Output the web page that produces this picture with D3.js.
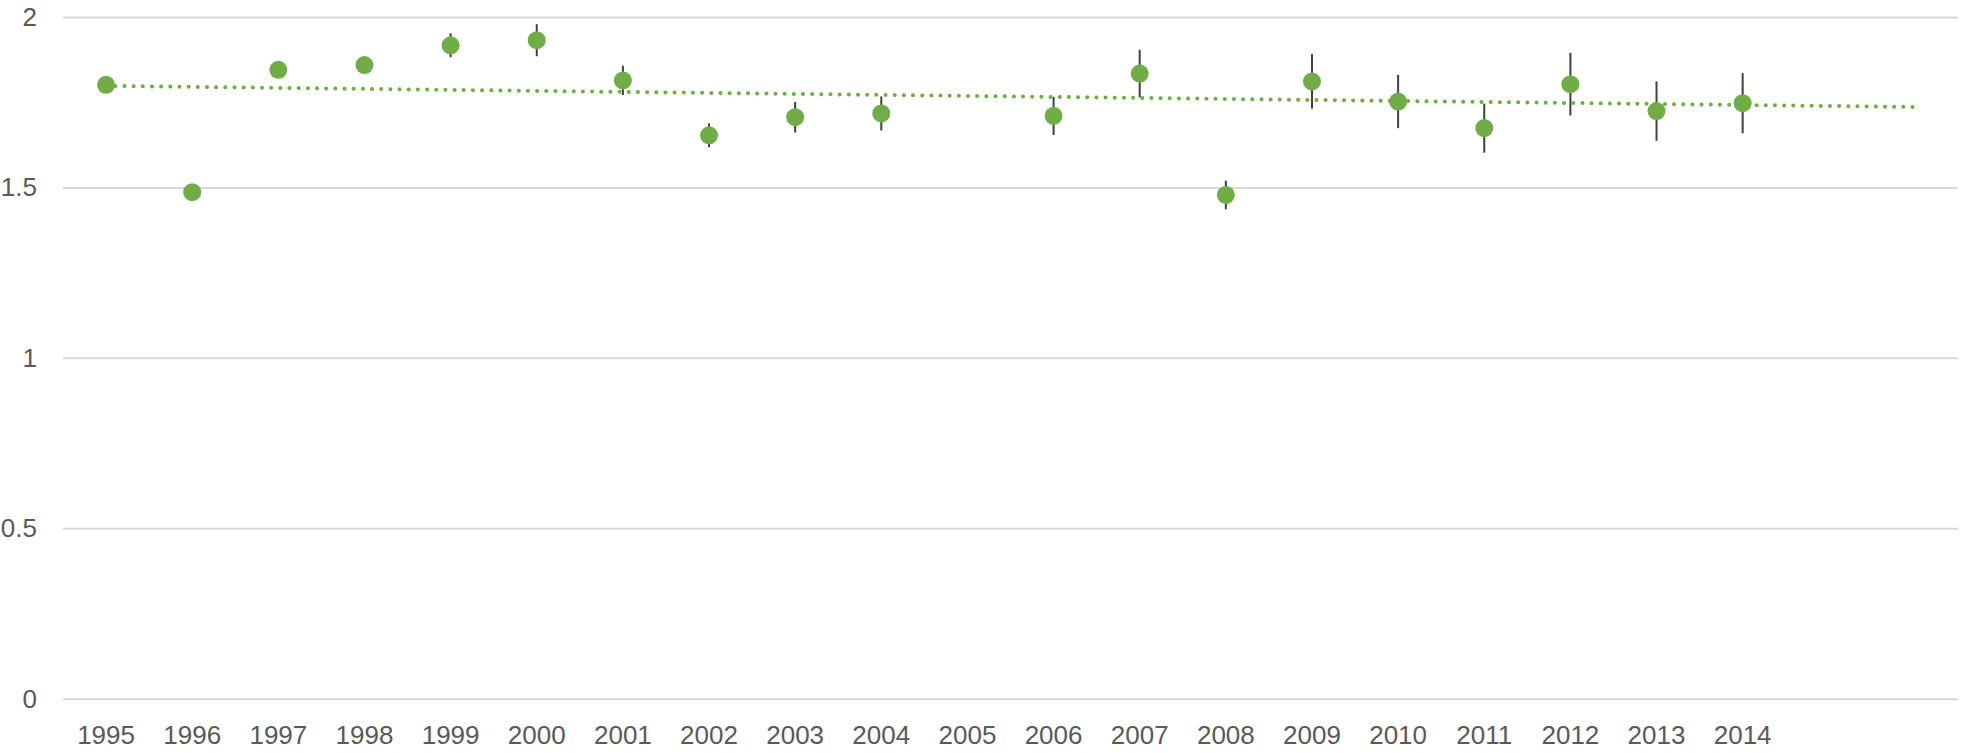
<!DOCTYPE html>
<html>
<head>
<meta charset="utf-8">
<script src="https://cdn.jsdelivr.net/npm/d3@7"></script>
<style>
    html, body { margin: 0; padding: 0; background: #fff; }
    svg text { font-family: "Liberation Sans", Arial, sans-serif; }
</style>
</head>
<body>
<div id="chart"></div>
<script>
// category slots (the axis keeps two empty slots for the trend forecast)
const slots = ["1995", "1996", "1997", "1998", "1999", "2000", "2001", "2002", "2003", "2004",
    "2005", "2006", "2007", "2008", "2009", "2010", "2011", "2012", "2013", "2014", "2015", "2016"];
const tickLabels = slots.slice(0, 20);

const years = ["1995", "1996", "1997", "1998", "1999", "2000", "2001", "2002", "2003", "2004",
    "2006", "2007", "2008", "2009", "2010", "2011", "2012", "2013", "2014"];
const values = [1.801, 1.486, 1.845, 1.859, 1.917, 1.932, 1.814, 1.653, 1.706, 1.717,
    1.710, 1.834, 1.478, 1.811, 1.752, 1.674, 1.803, 1.724, 1.747];
const errors = [0.015, 0.015, 0.015, 0.015, 0.035, 0.047, 0.043, 0.035, 0.045, 0.050,
    0.056, 0.070, 0.042, 0.080, 0.078, 0.072, 0.092, 0.087, 0.088];

// linear trendline as drawn (start and forecast end)
const trendYears = ["1995", "2016"];
const trendValues = [1.798, 1.736];

const yTicks = [0, 0.5, 1, 1.5, 2];

const width = 1961;
const height = 753;
const plotLeft = 63;
const plotRight = 1958;
const plotTop = 17;
const plotBottom = 698.7;

const green = "#70AD47";
const grid = "#D9D9D9";
const textCol = "#595959";
const fontSize = "26px";

const svg = d3.select("#chart")
    .append("svg")
    .attr("width", width)
    .attr("height", height);

const x = d3.scaleBand()
    .domain(slots)
    .range([plotLeft, plotRight])
    .padding(0);
const cx = d => x(d) + x.bandwidth() / 2;

const y = d3.scaleLinear()
    .domain([0, 2])
    .range([plotBottom, plotTop]);

// Gridlines + y labels
const yAxis = svg.append("g")
    .attr("transform", "translate(" + plotLeft + ",0)")
    .call(d3.axisLeft(y)
        .tickValues(yTicks)
        .tickFormat(d3.format("~g"))
        .tickSize(-(plotRight - plotLeft))
        .tickPadding(26));
yAxis.select(".domain").remove();
yAxis.selectAll(".tick line")
    .attr("stroke", grid)
    .attr("stroke-width", 2);
yAxis.selectAll(".tick text")
    .attr("fill", textCol)
    .style("font-size", fontSize);

// x labels
const xAxis = svg.append("g")
    .attr("transform", "translate(0," + plotBottom + ")")
    .call(d3.axisBottom(x)
        .tickValues(tickLabels)
        .tickSize(0)
        .tickPadding(27));
xAxis.select(".domain").remove();
xAxis.selectAll(".tick text")
    .attr("fill", textCol)
    .style("font-size", fontSize);

const pts = years.map((d, i) => ({ year: d, v: values[i], e: errors[i] }));

// Error bars
svg.append("g")
    .attr("id", "errors")
    .selectAll("line")
    .data(pts)
    .enter()
    .append("line")
    .attr("x1", d => cx(d.year))
    .attr("x2", d => cx(d.year))
    .attr("y1", d => y(d.v + d.e))
    .attr("y2", d => y(d.v - d.e))
    .attr("stroke", "#404040")
    .attr("stroke-width", 2);

// Points
svg.append("g")
    .attr("id", "points")
    .selectAll("circle")
    .data(pts)
    .enter()
    .append("circle")
    .attr("cx", d => cx(d.year))
    .attr("cy", d => y(d.v))
    .attr("r", 9)
    .attr("fill", green);

// Trendline
const trend = d3.line()
    .x(d => cx(d[0]))
    .y(d => y(d[1]));

svg.append("path")
    .attr("d", trend(trendYears.map((d, i) => [d, trendValues[i]])))
    .attr("fill", "none")
    .attr("stroke", green)
    .attr("stroke-width", 4)
    .attr("stroke-linecap", "round")
    .attr("stroke-dasharray", "0.1 9.07");
</script>
</body>
</html>
